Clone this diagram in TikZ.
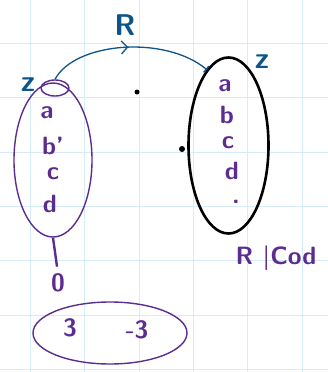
\documentclass[tikz,border=0pt]{standalone}
\usepackage{fontspec}
\usepackage{tikz}
\usetikzlibrary{arrows.meta,shapes.geometric,decorations.markings}

\definecolor{inkblue}{RGB}{12,84,138}
\definecolor{inkpurple}{RGB}{92,45,145}
\definecolor{gridblue}{RGB}{214,236,250}

\begin{document}
\begin{tikzpicture}[x=1pt, y=-1pt,
    every node/.style={inner sep=0pt},
    elem/.style={text=inkpurple, font=\sffamily\bfseries\fontsize{25}{25}\selectfont},
    tag/.style={text=inkblue, font=\sffamily\bfseries\fontsize{30}{30}\selectfont},
    purpleset/.style={draw=inkpurple, ellipse, line width=1.4pt},
    blackset/.style={draw=black, ellipse, line width=2.6pt},
    dot/.style={circle, fill=black, minimum size=5pt},
    gridline/.style={gridblue, line width=1pt},
    maparrow/.style={inkblue, line width=1.3pt, -{Bar[width=8pt]},
      postaction={decorate},
      decoration={markings,
        mark=at position 0.5 with {\arrow{Straight Barb[length=6pt,width=13pt]}}}}
  ]

    % paper
    \useasboundingbox (0,0) rectangle (328,372);
    \fill[white] (0,0) rectangle (328,372);
    \foreach \k in {0,...,5}
      \draw[gridline] ({30.5+54.3*\k},0) -- ++(0,372);
    \foreach \k in {0,...,6}
      \draw[gridline] (0,{43.5+54.3*\k}) -- ++(328,0);

    % left set
    \node[purpleset, minimum width=78pt, minimum height=154pt] (lset) at (53,160) {};
    \node[purpleset, minimum width=28pt, minimum height=16pt] (zl) at (55,88) {};
    \node[elem] (la) at (47,113) {a};
    \node[elem] (lb) at (53,146) {b'};
    \node[elem] (lc) at (53,174) {c};
    \node[elem] (ld) at (50,204) {d};
    \node[tag] (zleft) at (28,85) {z};

    % right set
    \node[blackset, minimum width=80pt, minimum height=176pt] (rset) at (228.5,145.5) {};
    \node[elem] (ra) at (225,86) {a};
    \node[elem] (rb) at (227,115) {b};
    \node[elem] (rc) at (228,143) {c};
    \node[elem] (rd) at (232,171) {d};
    \node[elem] (re) at (236,202) {.};
    \node[tag] (zright) at (262,62) {z};

    \node[dot] (p1) at (137,92) {};
    \node[dot, minimum size=6pt] (p2) at (182,149) {};

    % map
    \node[tag] (rlabel) at (125,25) {R};
    \draw[maparrow] (zl.north) .. controls (75,42) and (165,35) .. (rset.106);

    % kernel
    \node[elem] (zero) at (58,283) {0};
    \draw[inkpurple, line width=2.4pt, shorten >=7pt] (lset.south) -- (zero.north);
    \node[purpleset, minimum width=154pt, minimum height=62pt] (img) at (110,333) {};
    \node[elem] (three) at (70,328) {3};
    \node[elem] (mthree) at (137,330) {-3};

    \node[elem] (quot) at (276,258) {R |Cod};

  \end{tikzpicture}
\end{document}
